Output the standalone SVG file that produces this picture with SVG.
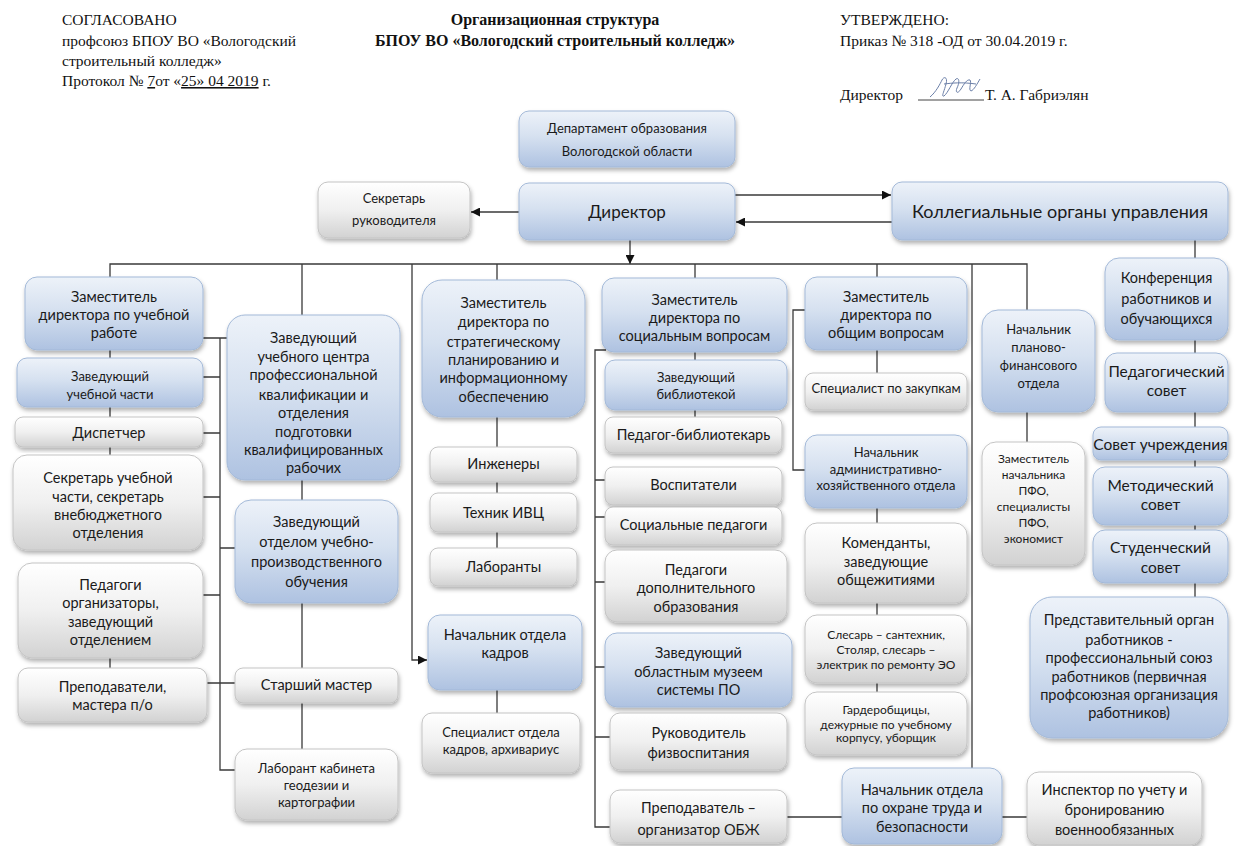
<svg xmlns="http://www.w3.org/2000/svg" width="1237" height="846" viewBox="0 0 1237 846">
<style>
.hd{font-family:"Liberation Serif","Times New Roman",serif;font-size:15.5px;fill:#111}
.hb{font-family:"Liberation Serif","Times New Roman",serif;font-size:16px;font-weight:bold;fill:#111}
.b{fill:url(#gb);stroke:#a3b9d8;stroke-width:1;filter:url(#sh)}
.g{fill:url(#gg);stroke:#c4c4c4;stroke-width:1;filter:url(#sh)}
text.n{font-family:Lato,"Open Sans",sans-serif;fill:#1a1a1a;text-anchor:middle}
.f17{font-size:17px}.f16{font-size:15.5px}.f15{font-size:14.5px}.f13{font-size:13px}.f12{font-size:12px}
.c{fill:none;stroke:#3a3a3a;stroke-width:1.3}
</style>
<defs>
<linearGradient id="gb" x1="0" y1="0" x2="0" y2="1">
<stop offset="0" stop-color="#edf2f9"/><stop offset="0.45" stop-color="#d6e1f0"/><stop offset="1" stop-color="#aec2e1"/>
</linearGradient>
<linearGradient id="gg" x1="0" y1="0" x2="0" y2="1">
<stop offset="0" stop-color="#ffffff"/><stop offset="0.5" stop-color="#f0f0f0"/><stop offset="1" stop-color="#d2d2d2"/>
</linearGradient>
<filter id="sh" x="-10%" y="-10%" width="120%" height="130%">
<feDropShadow dx="1" dy="3" stdDeviation="2" flood-color="#000" flood-opacity="0.3"/>
</filter>
<marker id="ar" viewBox="0 0 10 10" refX="10" refY="5" markerWidth="9" markerHeight="9" markerUnits="userSpaceOnUse" orient="auto">
<path d="M0,0 L10,5 L0,10 z" fill="#111"/>
</marker>
</defs>
<rect width="1237" height="846" fill="#fff"/>

<g id="header">
<text class="hd" x="62" y="25">СОГЛАСОВАНО</text>
<text class="hd" x="62" y="46">профсоюз БПОУ ВО «Вологодский</text>
<text class="hd" x="62" y="66">строительный колледж»</text>
<text class="hd" x="62" y="86">Протокол № <tspan text-decoration="underline">7</tspan>от «<tspan text-decoration="underline">25» 04 2019</tspan> г.</text>
<text class="hb" x="555" y="25" text-anchor="middle">Организационная структура</text>
<text class="hb" x="555" y="46" text-anchor="middle">БПОУ ВО «Вологодский строительный колледж»</text>
<text class="hd" x="840" y="25">УТВЕРЖДЕНО:</text>
<text class="hd" x="840" y="46">Приказ № 318 -ОД от 30.04.2019 г.</text>
<text class="hd" x="840" y="100">Директор</text>
<path d="M918,100 H984" stroke="#444" stroke-width="1" fill="none"/>
<path d="M930,97 C936,92 940,84 942,80 C944,76 948,77 946,84 C944,92 941,97 944,96 C948,93 952,82 956,79 C959,77 960,82 957,88 C955,93 958,94 961,89 C964,84 967,79 970,80 C972,82 968,90 971,91 C974,90 977,84 980,79 M944,84 C952,83 962,82 976,84" stroke="#6b7fa8" stroke-width="1" fill="none"/>
<text class="hd" x="985" y="100">Т. А. Габриэлян</text>
</g>

<g id="connectors">
<path class="c" d="M519,212 H471" marker-end="url(#ar)"/>
<path class="c" d="M735,195 H891" marker-end="url(#ar)"/>
<path class="c" d="M892,222 H736" marker-end="url(#ar)"/>
<path class="c" d="M630,240 V264" marker-end="url(#ar)"/>
<path class="c" d="M110,277 V264 H1027 V310"/>
<path class="c" d="M302,264 V315 M497,264 V280 M695,264 V278 M877,264 V277 M972,264 V768"/>
<path class="c" d="M412,264 V660 H427" marker-end="url(#ar)"/>
<path class="c" d="M1195,240 V258 M1195,340 V353 M1195,412 V427 M1195,460 V467 M1195,525 V530 M1195,583 V597"/>
<path class="c" d="M110,350 V358 M110,407 V417 M110,447 V455 M110,658 V668"/>
<path class="c" d="M203,338 H227 M220,338 V770 H235 M203,377 H220 M203,433 H220 M203,497 H220 M203,595 H220 M220,548 H235 M207,683 H235"/>
<path class="c" d="M302,480 V500 M302,603 V668 M302,703 V749"/>
<path class="c" d="M497,417 V447 M497,482 V493 M497,532 V548 M497,690 V713"/>
<path class="c" d="M606,350 H595 V827 H610 M595,480 H605 M595,517 H605 M595,582 H605 M595,667 H605 M595,737 H610"/>
<path class="c" d="M695,352 V360 M695,410 V417"/>
<path class="c" d="M787,817 H842 M1002,817 H1027"/>
<path class="c" d="M805,310 H793 V470 H805"/>
<path class="c" d="M877,350 V373 M877,508 V523 M877,603 V615 M877,683 V692"/>
<path class="c" d="M1027,412 V442"/>
</g>

<g id="dept"><rect class="b" x="519" y="111" width="216" height="56" rx="10"/>
<text class="n f13" x="627"><tspan x="627" y="133">Департамент образования</tspan><tspan x="627" y="156">Вологодской области</tspan></text></g>
<g id="director"><rect class="b" x="519" y="183" width="216" height="57" rx="10"/>
<text class="n f17" x="627" y="218">Директор</text></g>
<g id="secretary"><rect class="g" x="318" y="182" width="152" height="56" rx="10"/>
<text class="n f13" x="394"><tspan x="394" y="203">Секретарь</tspan><tspan x="394" y="225">руководителя</tspan></text></g>
<g id="collegial"><rect class="b" x="892" y="182" width="336" height="58" rx="10"/>
<text class="n" style="font-size:18px" x="1060" y="218">Коллегиальные органы управления</text></g>

<g id="zam_ucheb"><rect class="b" x="25" y="277" width="178" height="73" rx="12"/>
<text class="n f15" x="114"><tspan x="114" y="302">Заместитель</tspan><tspan x="114" y="320">директора по учебной</tspan><tspan x="114" y="338">работе</tspan></text></g>
<g id="zav_uch_chasti"><rect class="b" x="17" y="358" width="186" height="49" rx="10"/>
<text class="n f13" x="110"><tspan x="110" y="381">Заведующий</tspan><tspan x="110" y="399">учебной части</tspan></text></g>
<g id="dispatcher"><rect class="g" x="15" y="417" width="188" height="30" rx="8"/>
<text class="n f15" x="109" y="438">Диспетчер</text></g>
<g id="sekr_uch"><rect class="g" x="13" y="455" width="190" height="95" rx="14"/>
<text class="n f15" x="108"><tspan x="108" y="483">Секретарь учебной</tspan><tspan x="108" y="502">части, секретарь</tspan><tspan x="108" y="520">внебюджетного</tspan><tspan x="108" y="538">отделения</tspan></text></g>
<g id="pedagogi_org"><rect class="g" x="18" y="563" width="185" height="95" rx="14"/>
<text class="n f15" x="110.5"><tspan x="110.5" y="590">Педагоги</tspan><tspan x="110.5" y="608">организаторы,</tspan><tspan x="110.5" y="627">заведующий</tspan><tspan x="110.5" y="645">отделением</tspan></text></g>
<g id="prepod"><rect class="g" x="18" y="668" width="189" height="54" rx="10"/>
<text class="n f15" x="112.5"><tspan x="112.5" y="692">Преподаватели,</tspan><tspan x="112.5" y="710">мастера п/о</tspan></text></g>

<g id="zav_uch_centr"><rect class="b" x="227" y="315" width="173" height="165" rx="18"/>
<text class="n f15" x="313.5"><tspan x="313.5" y="343">Заведующий</tspan><tspan x="313.5" y="362">учебного центра</tspan><tspan x="313.5" y="380">профессиональной</tspan><tspan x="313.5" y="400">квалификации и</tspan><tspan x="313.5" y="418">отделения</tspan><tspan x="313.5" y="437">подготовки</tspan><tspan x="313.5" y="455">квалифицированных</tspan><tspan x="313.5" y="473">рабочих</tspan></text></g>
<g id="zav_otd_upo"><rect class="b" x="235" y="500" width="163" height="103" rx="16"/>
<text class="n f15" x="316.5"><tspan x="316.5" y="527">Заведующий</tspan><tspan x="316.5" y="547">отделом учебно-</tspan><tspan x="316.5" y="567">производственного</tspan><tspan x="316.5" y="587">обучения</tspan></text></g>
<g id="st_master"><rect class="g" x="235" y="668" width="163" height="35" rx="8"/>
<text class="n f15" x="316.5" y="690">Старший мастер</text></g>
<g id="laborant_geo"><rect class="g" x="235" y="749" width="163" height="71" rx="12"/>
<text class="n f13" x="316.5"><tspan x="316.5" y="773">Лаборант кабинета</tspan><tspan x="316.5" y="790">геодезии и</tspan><tspan x="316.5" y="807">картографии</tspan></text></g>

<g id="zam_strat"><rect class="b" x="422" y="280" width="163" height="137" rx="20"/>
<text class="n f15" x="503.5"><tspan x="503.5" y="308">Заместитель</tspan><tspan x="503.5" y="327">директора по</tspan><tspan x="503.5" y="347">стратегическому</tspan><tspan x="503.5" y="365">планированию и</tspan><tspan x="503.5" y="383">информационному</tspan><tspan x="503.5" y="402">обеспечению</tspan></text></g>
<g id="ingenery"><rect class="g" x="430" y="447" width="147" height="35" rx="8"/>
<text class="n f15" x="503.5" y="469">Инженеры</text></g>
<g id="tehnik"><rect class="g" x="430" y="493" width="147" height="39" rx="8"/>
<text class="n f15" x="503.5" y="518">Техник ИВЦ</text></g>
<g id="laboranty"><rect class="g" x="430" y="548" width="147" height="38" rx="8"/>
<text class="n f15" x="503.5" y="572">Лаборанты</text></g>
<g id="nach_kadrov"><rect class="b" x="428" y="615" width="154" height="75" rx="12"/>
<text class="n f15" x="505"><tspan x="505" y="640">Начальник отдела</tspan><tspan x="505" y="658">кадров</tspan></text></g>
<g id="spec_kadrov"><rect class="g" x="422" y="713" width="158" height="60" rx="10"/>
<text class="n f13" x="501"><tspan x="501" y="737">Специалист отдела</tspan><tspan x="501" y="754">кадров, архивариус</tspan></text></g>

<g id="zam_soc"><rect class="b" x="602" y="278" width="185" height="74" rx="12"/>
<text class="n f15" x="694.5"><tspan x="694.5" y="305">Заместитель</tspan><tspan x="694.5" y="323">директора по</tspan><tspan x="694.5" y="341">социальным вопросам</tspan></text></g>
<g id="zav_bibl"><rect class="b" x="605" y="360" width="182" height="50" rx="10"/>
<text class="n f13" x="696"><tspan x="696" y="382">Заведующий</tspan><tspan x="696" y="399">библиотекой</tspan></text></g>
<g id="ped_bibl"><rect class="g" x="605" y="417" width="177" height="36" rx="8"/>
<text class="n f15" x="693.5" y="440">Педагог-библиотекарь</text></g>
<g id="vospit"><rect class="g" x="605" y="467" width="177" height="38" rx="8"/>
<text class="n f15" x="693.5" y="490">Воспитатели</text></g>
<g id="soc_ped"><rect class="g" x="605" y="507" width="177" height="38" rx="8"/>
<text class="n f15" x="693.5" y="530">Социальные педагоги</text></g>
<g id="ped_dop"><rect class="g" x="605" y="550" width="182" height="72" rx="12"/>
<text class="n f15" x="696"><tspan x="696" y="575">Педагоги</tspan><tspan x="696" y="593">дополнительного</tspan><tspan x="696" y="612">образования</tspan></text></g>
<g id="zav_muzei"><rect class="b" x="605" y="633" width="187" height="74" rx="12"/>
<text class="n f15" x="698.5"><tspan x="698.5" y="658">Заведующий</tspan><tspan x="698.5" y="677">областным музеем</tspan><tspan x="698.5" y="695">системы ПО</tspan></text></g>
<g id="ruk_fiz"><rect class="g" x="610" y="713" width="177" height="57" rx="10"/>
<text class="n f15" x="698.5"><tspan x="698.5" y="738">Руководитель</tspan><tspan x="698.5" y="758">физвоспитания</tspan></text></g>
<g id="prep_obzh"><rect class="g" x="610" y="790" width="177" height="53" rx="10"/>
<text class="n f15" x="698.5"><tspan x="698.5" y="813">Преподаватель –</tspan><tspan x="698.5" y="835">организатор ОБЖ</tspan></text></g>

<g id="zam_obsh"><rect class="b" x="805" y="277" width="162" height="73" rx="12"/>
<text class="n f15" x="886"><tspan x="886" y="302">Заместитель</tspan><tspan x="886" y="320">директора по</tspan><tspan x="886" y="338">общим вопросам</tspan></text></g>
<g id="spec_zakup"><rect class="g" x="805" y="373" width="162" height="37" rx="8"/>
<text class="n f13" x="886" y="393">Специалист по закупкам</text></g>
<g id="nach_ahc"><rect class="b" x="805" y="435" width="162" height="73" rx="12"/>
<text class="n f13" x="886"><tspan x="886" y="457">Начальник</tspan><tspan x="886" y="474">административно-</tspan><tspan x="886" y="490">хозяйственного отдела</tspan></text></g>
<g id="komend"><rect class="g" x="805" y="523" width="162" height="80" rx="12"/>
<text class="n f15" x="886"><tspan x="886" y="548">Коменданты,</tspan><tspan x="886" y="567">заведующие</tspan><tspan x="886" y="585">общежитиями</tspan></text></g>
<g id="slesar"><rect class="g" x="805" y="615" width="162" height="68" rx="12"/>
<text class="n f12" x="886"><tspan x="886" y="639">Слесарь – сантехник,</tspan><tspan x="886" y="654">Столяр, слесарь –</tspan><tspan x="886" y="669">электрик по ремонту ЭО</tspan></text></g>
<g id="garderob"><rect class="g" x="805" y="692" width="162" height="63" rx="12"/>
<text class="n f12" x="886"><tspan x="886" y="714">Гардеробщицы,</tspan><tspan x="886" y="729">дежурные по учебному</tspan><tspan x="886" y="742">корпусу, уборщик</tspan></text></g>
<g id="nach_ohrana"><rect class="b" x="842" y="768" width="160" height="76" rx="12"/>
<text class="n f15" x="922"><tspan x="922" y="795">Начальник отдела</tspan><tspan x="922" y="813">по охране труда и</tspan><tspan x="922" y="832">безопасности</tspan></text></g>

<g id="nach_pfo"><rect class="b" x="982" y="310" width="113" height="102" rx="16"/>
<text class="n f13" x="1038.5"><tspan x="1038.5" y="334">Начальник</tspan><tspan x="1038.5" y="352">планово-</tspan><tspan x="1038.5" y="370">финансового</tspan><tspan x="1038.5" y="388">отдела</tspan></text></g>
<g id="zam_pfo"><rect class="g" x="982" y="442" width="103" height="123" rx="14"/>
<text class="n f12" x="1033.5"><tspan x="1033.5" y="463">Заместитель</tspan><tspan x="1033.5" y="479">начальника</tspan><tspan x="1033.5" y="495">ПФО,</tspan><tspan x="1033.5" y="511">специалисты</tspan><tspan x="1033.5" y="527">ПФО,</tspan><tspan x="1033.5" y="543">экономист</tspan></text></g>
<g id="inspektor"><rect class="g" x="1027" y="772" width="175" height="73" rx="12"/>
<text class="n f15" x="1114.5"><tspan x="1114.5" y="795">Инспектор по учету и</tspan><tspan x="1114.5" y="815">бронированию</tspan><tspan x="1114.5" y="835">военнообязанных</tspan></text></g>

<g id="konf"><rect class="b" x="1105" y="258" width="123" height="82" rx="14"/>
<text class="n f15" x="1166.5"><tspan x="1166.5" y="283">Конференция</tspan><tspan x="1166.5" y="304">работников и</tspan><tspan x="1166.5" y="324">обучающихся</tspan></text></g>
<g id="ped_sovet"><rect class="b" x="1105" y="353" width="123" height="59" rx="12"/>
<text class="n f16" x="1166.5"><tspan x="1166.5" y="377">Педагогический</tspan><tspan x="1166.5" y="396">совет</tspan></text></g>
<g id="sovet_uchr"><rect class="b" x="1093" y="427" width="135" height="33" rx="8"/>
<text class="n f16" x="1160.5" y="450">Совет учреждения</text></g>
<g id="metod"><rect class="b" x="1093" y="467" width="135" height="58" rx="12"/>
<text class="n f16" x="1160.5"><tspan x="1160.5" y="491">Методический</tspan><tspan x="1160.5" y="510">совет</tspan></text></g>
<g id="stud"><rect class="b" x="1093" y="530" width="135" height="53" rx="12"/>
<text class="n f16" x="1160.5"><tspan x="1160.5" y="553">Студенческий</tspan><tspan x="1160.5" y="573">совет</tspan></text></g>
<g id="predstav"><rect class="b" x="1030" y="597" width="198" height="141" rx="22"/>
<text class="n f15" x="1129"><tspan x="1129" y="625">Представительный орган</tspan><tspan x="1129" y="645">работников -</tspan><tspan x="1129" y="663">профессиональный союз</tspan><tspan x="1129" y="682">работников (первичная</tspan><tspan x="1129" y="700">профсоюзная организация</tspan><tspan x="1129" y="718">работников)</tspan></text></g>
</svg>
